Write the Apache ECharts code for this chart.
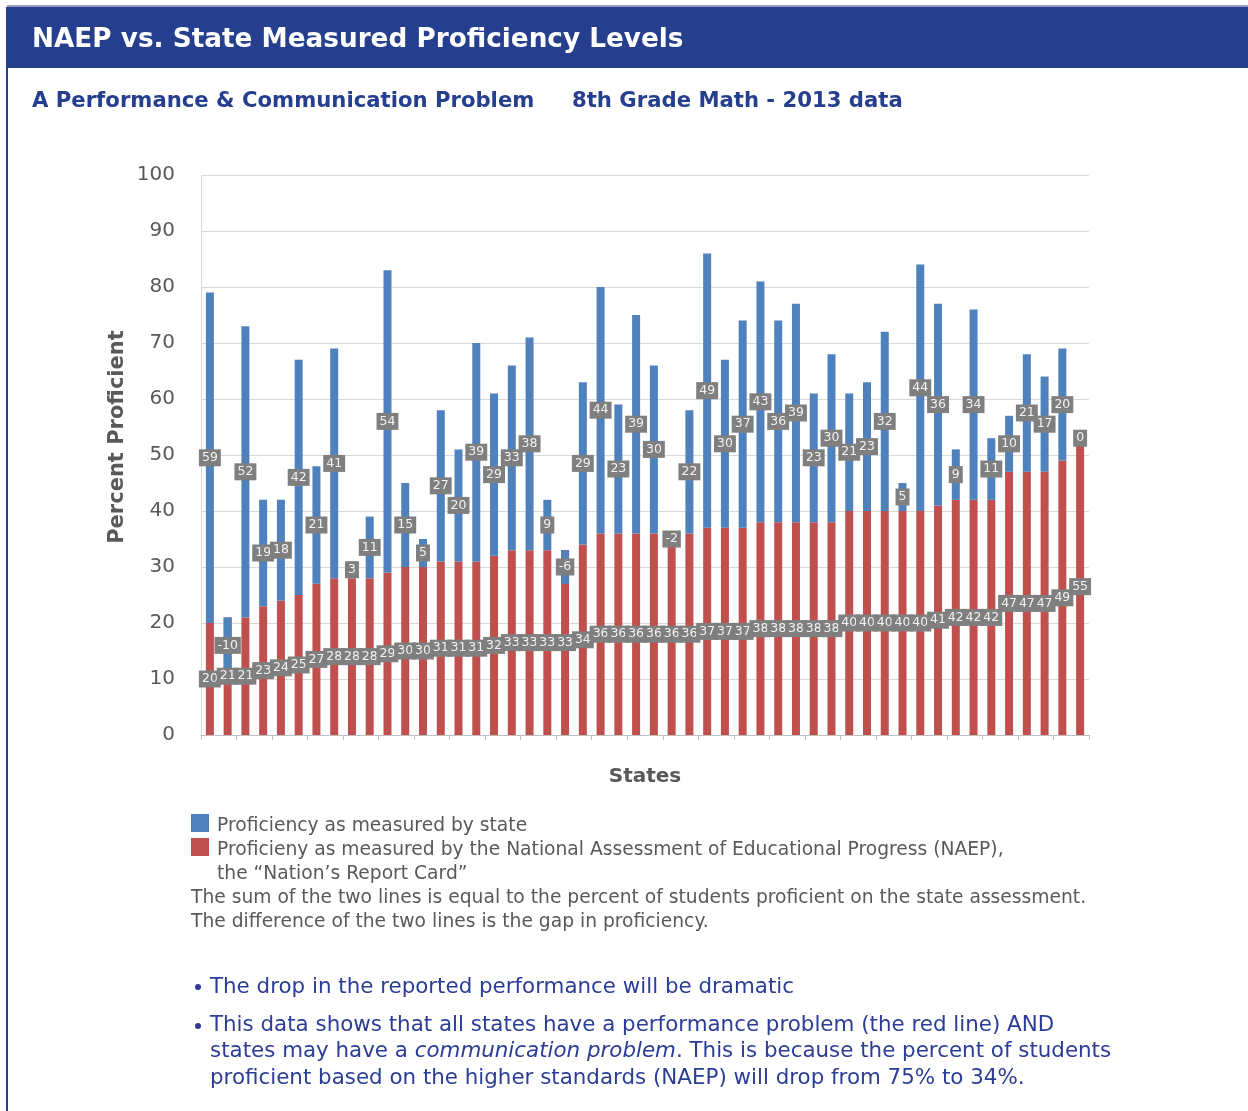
<!DOCTYPE html>
<html>
<head>
<meta charset="utf-8">
<script src="https://cdn.jsdelivr.net/npm/echarts@6/dist/echarts.min.js"></script>
<style>
  html, body { margin: 0; padding: 0; background: #fff; }
  #main { width: 1248px; height: 1111px; }
</style>
</head>
<body>
<div id="main"></div>
<script>
// NAEP proficiency (red), one per state, sorted ascending
var naep = [20, 21, 21, 23, 24, 25, 27, 28, 28, 28, 29, 30, 30, 31, 31, 31, 32, 33, 33, 33,
            33, 34, 36, 36, 36, 36, 36, 36, 37, 37, 37, 38, 38, 38, 38, 38, 40, 40, 40, 40,
            40, 41, 42, 42, 42, 47, 47, 47, 49, 53];
// the printed labels (last one reads 55 in the original)
var naepLabels = [20, 21, 21, 23, 24, 25, 27, 28, 28, 28, 29, 30, 30, 31, 31, 31, 32, 33, 33, 33,
                  33, 34, 36, 36, 36, 36, 36, 36, 37, 37, 37, 38, 38, 38, 38, 38, 40, 40, 40, 40,
                  40, 41, 42, 42, 42, 47, 47, 47, 49, 55];
// gap between state result and NAEP (blue, stacked on top)
var gap = [59, -10, 52, 19, 18, 42, 21, 41, 3, 11, 54, 15, 5, 27, 20, 39, 29, 33, 38, 9,
           -6, 29, 44, 23, 39, 30, -2, 22, 49, 30, 37, 43, 36, 39, 23, 30, 21, 23, 32, 5,
           44, 36, 9, 34, 11, 10, 21, 17, 20, 0];
var states = naep.map(function (v, i) { return 'S' + (i + 1); });
var yTicks = [0, 10, 20, 30, 40, 50, 60, 70, 80, 90, 100];

var navy = '#253f8e';
var textBlue = '#2b3d96';
var grey = '#595959';
var font = '"DejaVu Sans", Verdana, sans-serif';

var boxLabel = {
  show: true,
  position: 'inside',
  color: '#f2f2f2',
  fontFamily: font,
  fontSize: 12.5,
  backgroundColor: '#7f7f7f',
  padding: [2, 3, 2, 3]
};

var myChart = echarts.init(document.getElementById('main'));

myChart.setOption({
  animation: false,
  textStyle: { fontFamily: font },

  grid: { left: 201, right: 159, top: 175, bottom: 376 },

  xAxis: {
    type: 'category',
    data: states,
    name: 'States',
    nameLocation: 'middle',
    nameGap: 32,
    nameTextStyle: { fontSize: 20, fontWeight: 'bold', color: grey, fontFamily: font },
    axisLine: { lineStyle: { color: '#bfbfbf' } },
    axisTick: { show: true, length: 5, lineStyle: { color: '#bfbfbf' } },
    axisLabel: { show: false }
  },

  yAxis: {
    type: 'value',
    min: 0,
    max: 100,
    interval: 10,
    axisLine: { show: true, lineStyle: { color: '#d9d9d9' } },
    axisTick: { show: false },
    splitLine: { lineStyle: { color: '#d9d9d9' } },
    axisLabel: {
      color: grey,
      fontSize: 20,
      fontFamily: font,
      margin: 26,
      formatter: function (v) { return yTicks.indexOf(v) >= 0 ? String(v) : ''; }
    }
  },

  series: [
    {
      name: 'NAEP',
      type: 'bar',
      stack: 'p',
      stackStrategy: 'all',
      barWidth: 8,
      itemStyle: { color: '#c0504d' },
      label: Object.assign({}, boxLabel, {
        formatter: function (p) { return naepLabels[p.dataIndex]; }
      }),
      data: naep
    },
    {
      name: 'State',
      type: 'bar',
      stack: 'p',
      stackStrategy: 'all',
      barWidth: 8,
      itemStyle: { color: '#4f81bd' },
      label: Object.assign({}, boxLabel, { formatter: '{c}' }),
      data: gap
    }
  ],

  graphic: [
    // slide frame
    { type: 'rect', shape: { x: 7, y: 5, width: 1241, height: 2 }, style: { fill: '#9a9fc0' } },
    { type: 'rect', shape: { x: 7, y: 7, width: 1241, height: 61 }, style: { fill: navy } },
    { type: 'rect', shape: { x: 6, y: 7, width: 2, height: 1104 }, style: { fill: navy } },
    {
      type: 'text', left: 32, top: 27,
      style: { text: 'NAEP vs. State Measured Proficiency Levels', fill: '#ffffff',
               font: 'bold 26.3px ' + font }
    },
    {
      type: 'text', left: 32, top: 91,
      style: { text: 'A Performance & Communication Problem', fill: navy, font: 'bold 21.2px ' + font }
    },
    {
      type: 'text', left: 572, top: 91,
      style: { text: '8th Grade Math - 2013 data', fill: navy, font: 'bold 21.2px ' + font }
    },
    // y axis title
    {
      type: 'text', x: 118, y: 437, rotation: Math.PI / 2,
      style: { text: 'Percent Proficient', fill: grey, font: 'bold 21px ' + font,
               align: 'center', verticalAlign: 'middle' }
    },
    // legend
    { type: 'rect', shape: { x: 191, y: 814, width: 18, height: 18 }, style: { fill: '#4f81bd' } },
    { type: 'rect', shape: { x: 191, y: 838, width: 18, height: 18 }, style: { fill: '#c0504d' } },
    {
      type: 'text', left: 217, top: 817,
      style: { text: 'Proficiency as measured by state', fill: grey, font: '18.7px ' + font }
    },
    {
      type: 'text', left: 217, top: 841,
      style: { text: 'Proficieny as measured by the National Assessment of Educational Progress (NAEP),',
               fill: grey, font: '18.7px ' + font }
    },
    {
      type: 'text', left: 217, top: 865,
      style: { text: 'the \u201cNation\u2019s Report Card\u201d', fill: grey, font: '18.7px ' + font }
    },
    {
      type: 'text', left: 191, top: 889,
      style: { text: 'The sum of the two lines is equal to the percent of students proficient on the state assessment.',
               fill: grey, font: '18.7px ' + font }
    },
    {
      type: 'text', left: 191, top: 913,
      style: { text: 'The difference of the two lines is the gap in proficiency.', fill: grey, font: '18.7px ' + font }
    },
    // bullets
    { type: 'circle', shape: { cx: 198, cy: 987, r: 3 }, style: { fill: textBlue } },
    {
      type: 'text', left: 210, top: 977,
      style: { text: 'The drop in the reported performance will be dramatic', fill: textBlue, font: '21.4px ' + font }
    },
    { type: 'circle', shape: { cx: 198, cy: 1026, r: 3 }, style: { fill: textBlue } },
    {
      type: 'text', left: 210, top: 1015,
      style: { text: 'This data shows that all states have a performance problem (the red line) AND',
               fill: textBlue, font: '21.4px ' + font }
    },
    {
      type: 'text', left: 210, top: 1041,
      style: {
        text: '{n|states may have a }{i|communication problem}{n|. This is because the percent of students}',
        rich: {
          n: { fill: textBlue, font: '21.4px ' + font },
          i: { fill: textBlue, font: 'italic 21.4px ' + font }
        }
      }
    },
    {
      type: 'text', left: 210, top: 1068,
      style: { text: 'proficient based on the higher standards (NAEP) will drop from 75% to 34%.',
               fill: textBlue, font: '21.4px ' + font }
    }
  ]
});
</script>
</body>
</html>
